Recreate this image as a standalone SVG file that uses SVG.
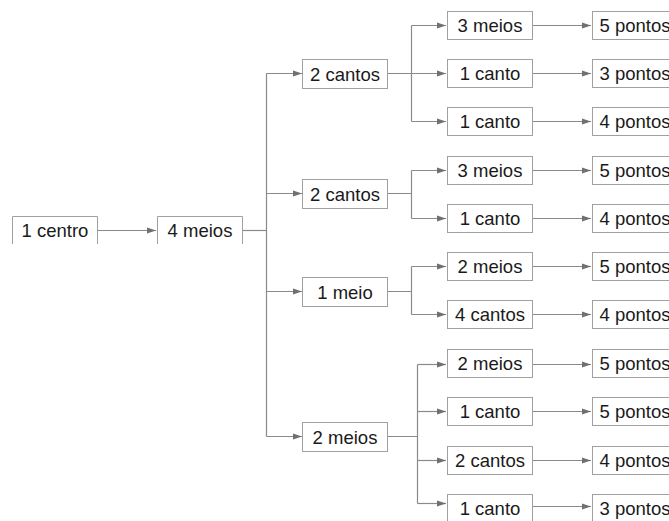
<svg xmlns="http://www.w3.org/2000/svg" width="669" height="521" viewBox="0 0 669 521">
<style>
.box{fill:#fff;stroke:#a0a0a0;stroke-width:1}
.open{fill:#fff;stroke:#a0a0a0;stroke-width:1}
.t{font-family:"Liberation Sans",Arial,sans-serif;font-size:18.5px;fill:#1a1a1a;text-anchor:middle}
.c{fill:none;stroke:#8a8a8a;stroke-width:1.2}
</style>
<defs>
<marker id="ah" markerWidth="10" markerHeight="8" refX="9" refY="4" orient="auto" markerUnits="userSpaceOnUse">
<path d="M0,1 L9,4 L0,7 Z" fill="#707070"/>
</marker>
</defs>
<rect width="669" height="521" fill="#fff"/>
<g id="connectors">
<path class="c" d="M97.5,230.5 H156" marker-end="url(#ah)"/>
<path class="c" d="M242.5,230.5 H266.5"/>
<path class="c" d="M266.5,73.5 V436.5"/>
<path class="c" d="M266.5,73.5 H302" marker-end="url(#ah)"/>
<path class="c" d="M266.5,193.5 H302" marker-end="url(#ah)"/>
<path class="c" d="M266.5,291.5 H302" marker-end="url(#ah)"/>
<path class="c" d="M266.5,436.5 H302" marker-end="url(#ah)"/>
<path class="c" d="M387.5,73.5 H411.5 M411.5,25.5 V121.5"/>
<path class="c" d="M411.5,25.5 H446" marker-end="url(#ah)"/>
<path class="c" d="M411.5,73.5 H446" marker-end="url(#ah)"/>
<path class="c" d="M411.5,121.5 H446" marker-end="url(#ah)"/>
<path class="c" d="M387.5,193.5 H411.5 M411.5,170.5 V218.5"/>
<path class="c" d="M411.5,170.5 H446" marker-end="url(#ah)"/>
<path class="c" d="M411.5,218.5 H446" marker-end="url(#ah)"/>
<path class="c" d="M387.5,291.5 H411.5 M411.5,266.5 V314.5"/>
<path class="c" d="M411.5,266.5 H446" marker-end="url(#ah)"/>
<path class="c" d="M411.5,314.5 H446" marker-end="url(#ah)"/>
<path class="c" d="M387.5,436.5 H417.5 M417.5,364.5 V503.5"/>
<path class="c" d="M417.5,364.5 H446" marker-end="url(#ah)"/>
<path class="c" d="M417.5,411.5 H446" marker-end="url(#ah)"/>
<path class="c" d="M417.5,460.5 H446" marker-end="url(#ah)"/>
<path class="c" d="M417.5,503.5 H446" marker-end="url(#ah)"/>
<path class="c" d="M532.5,25.5 H591" marker-end="url(#ah)"/>
<path class="c" d="M532.5,73.5 H591" marker-end="url(#ah)"/>
<path class="c" d="M532.5,121.5 H591" marker-end="url(#ah)"/>
<path class="c" d="M532.5,170.5 H591" marker-end="url(#ah)"/>
<path class="c" d="M532.5,218.5 H591" marker-end="url(#ah)"/>
<path class="c" d="M532.5,266.5 H591" marker-end="url(#ah)"/>
<path class="c" d="M532.5,314.5 H591" marker-end="url(#ah)"/>
<path class="c" d="M532.5,364.5 H591" marker-end="url(#ah)"/>
<path class="c" d="M532.5,411.5 H591" marker-end="url(#ah)"/>
<path class="c" d="M532.5,460.5 H591" marker-end="url(#ah)"/>
<path class="c" d="M532.5,506.5 H591" marker-end="url(#ah)"/>
</g>
<g id="n-centro"><path class="open" d="M12.5,244 V216.5 H97.5 V244"/><text class="t" x="55" y="237">1 centro</text></g>
<g id="n-4meios"><path class="open" d="M157.5,244 V216.5 H242.5 V244"/><text class="t" x="200" y="237">4 meios</text></g>
<g id="n-a"><rect class="box" x="302.5" y="59.5" width="85" height="29"/><text class="t" x="345" y="80.5">2 cantos</text></g>
<g id="n-b"><rect class="box" x="302.5" y="179.5" width="85" height="29"/><text class="t" x="345" y="200.5">2 cantos</text></g>
<g id="n-c"><rect class="box" x="302.5" y="277.5" width="85" height="29"/><text class="t" x="345" y="298.5">1 meio</text></g>
<g id="n-d"><rect class="box" x="302.5" y="422.5" width="85" height="29"/><text class="t" x="345" y="443.5">2 meios</text></g>
<g id="n-a1"><rect class="box" x="447.5" y="11.5" width="85" height="28"/><text class="t" x="490" y="32">3 meios</text></g>
<g id="n-a2"><rect class="box" x="447.5" y="59.5" width="85" height="28"/><text class="t" x="490" y="80">1 canto</text></g>
<g id="n-a3"><rect class="box" x="447.5" y="107.5" width="85" height="28"/><text class="t" x="490" y="128">1 canto</text></g>
<g id="n-b1"><rect class="box" x="447.5" y="156.5" width="85" height="28"/><text class="t" x="490" y="177">3 meios</text></g>
<g id="n-b2"><rect class="box" x="447.5" y="204.5" width="85" height="28"/><text class="t" x="490" y="225">1 canto</text></g>
<g id="n-c1"><rect class="box" x="447.5" y="252.5" width="85" height="28"/><text class="t" x="490" y="273">2 meios</text></g>
<g id="n-c2"><rect class="box" x="447.5" y="300.5" width="85" height="28"/><text class="t" x="490" y="321">4 cantos</text></g>
<g id="n-d1"><rect class="box" x="447.5" y="349.5" width="85" height="28"/><text class="t" x="490" y="370">2 meios</text></g>
<g id="n-d2"><rect class="box" x="447.5" y="397.5" width="85" height="28"/><text class="t" x="490" y="418">1 canto</text></g>
<g id="n-d3"><rect class="box" x="447.5" y="446.5" width="85" height="28"/><text class="t" x="490" y="467">2 cantos</text></g>
<g id="n-d4"><rect class="box" x="447.5" y="494.5" width="85" height="28"/><text class="t" x="490" y="515">1 canto</text></g>
<g id="p1"><rect class="box" x="592.5" y="11.5" width="85" height="28"/><text class="t" x="635" y="32">5 pontos</text></g>
<g id="p2"><rect class="box" x="592.5" y="59.5" width="85" height="28"/><text class="t" x="635" y="80">3 pontos</text></g>
<g id="p3"><rect class="box" x="592.5" y="107.5" width="85" height="28"/><text class="t" x="635" y="128">4 pontos</text></g>
<g id="p4"><rect class="box" x="592.5" y="156.5" width="85" height="28"/><text class="t" x="635" y="177">5 pontos</text></g>
<g id="p5"><rect class="box" x="592.5" y="204.5" width="85" height="28"/><text class="t" x="635" y="225">4 pontos</text></g>
<g id="p6"><rect class="box" x="592.5" y="252.5" width="85" height="28"/><text class="t" x="635" y="273">5 pontos</text></g>
<g id="p7"><rect class="box" x="592.5" y="300.5" width="85" height="28"/><text class="t" x="635" y="321">4 pontos</text></g>
<g id="p8"><rect class="box" x="592.5" y="349.5" width="85" height="28"/><text class="t" x="635" y="370">5 pontos</text></g>
<g id="p9"><rect class="box" x="592.5" y="397.5" width="85" height="28"/><text class="t" x="635" y="418">5 pontos</text></g>
<g id="p10"><rect class="box" x="592.5" y="446.5" width="85" height="28"/><text class="t" x="635" y="467">4 pontos</text></g>
<g id="p11"><rect class="box" x="592.5" y="494.5" width="85" height="28"/><text class="t" x="635" y="515">3 pontos</text></g>
</svg>
